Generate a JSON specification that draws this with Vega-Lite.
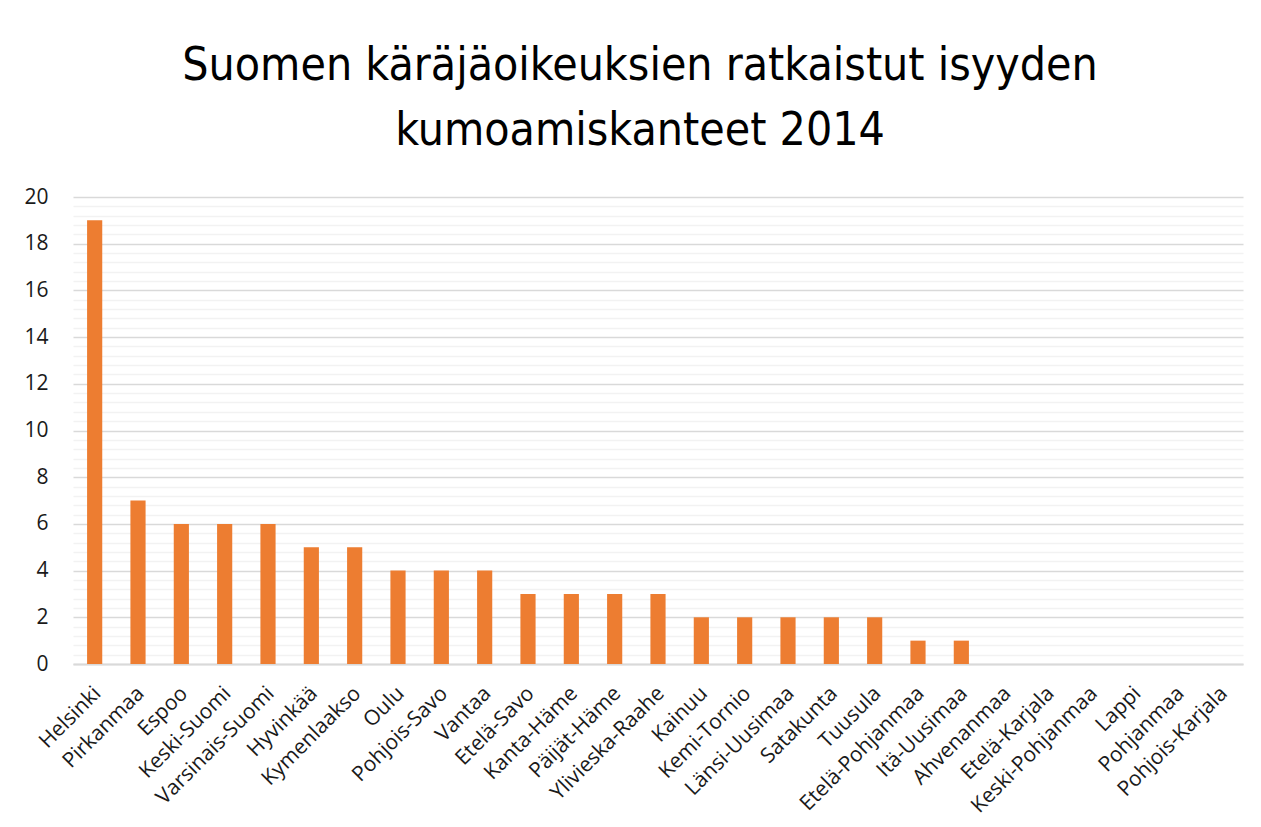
{
  "$schema": "https://vega.github.io/schema/vega-lite/v6.json",
  "autosize": {"type": "none"},
  "width": 1170,
  "height": 467,
  "padding": {"left": 73, "top": 197, "right": 18, "bottom": 163},
  "background": "white",
  "title": {
    "text": ["Suomen käräjäoikeuksien ratkaistut isyyden", "kumoamiskanteet 2014"],
    "font": "DejaVu Sans Condensed, Roboto Condensed, Roboto",
    "fontSize": 46,
    "fontWeight": "normal",
    "color": "#000000",
    "anchor": "middle",
    "dx": -18,
    "lineHeight": 65,
    "offset": 31
  },
  "data": {
    "values": [
      {"region": "Helsinki", "count": 19},
      {"region": "Pirkanmaa", "count": 7},
      {"region": "Espoo", "count": 6},
      {"region": "Keski-Suomi", "count": 6},
      {"region": "Varsinais-Suomi", "count": 6},
      {"region": "Hyvinkää", "count": 5},
      {"region": "Kymenlaakso", "count": 5},
      {"region": "Oulu", "count": 4},
      {"region": "Pohjois-Savo", "count": 4},
      {"region": "Vantaa", "count": 4},
      {"region": "Etelä-Savo", "count": 3},
      {"region": "Kanta-Häme", "count": 3},
      {"region": "Päijät-Häme", "count": 3},
      {"region": "Ylivieska-Raahe", "count": 3},
      {"region": "Kainuu", "count": 2},
      {"region": "Kemi-Tornio", "count": 2},
      {"region": "Länsi-Uusimaa", "count": 2},
      {"region": "Satakunta", "count": 2},
      {"region": "Tuusula", "count": 2},
      {"region": "Etelä-Pohjanmaa", "count": 1},
      {"region": "Itä-Uusimaa", "count": 1},
      {"region": "Ahvenanmaa", "count": 0},
      {"region": "Etelä-Karjala", "count": 0},
      {"region": "Keski-Pohjanmaa", "count": 0},
      {"region": "Lappi", "count": 0},
      {"region": "Pohjanmaa", "count": 0},
      {"region": "Pohjois-Karjala", "count": 0}
    ]
  },
  "mark": {"type": "bar", "color": "#ED7D31"},
  "encoding": {
    "x": {
      "field": "region",
      "type": "nominal",
      "sort": null,
      "scale": {"paddingInner": 0.65, "paddingOuter": 0.325},
      "axis": {
        "title": null,
        "labelAngle": -45,
        "labelAlign": "right",
        "labelBaseline": "middle",
        "labelFont": "Open Sans",
        "labelFontSize": 21,
        "labelColor": "#1a1a1a",
        "labelPadding": 26,
        "labelOffset": 3,
        "ticks": false,
        "domainColor": "#d9d9d9",
        "domainWidth": 2,
        "labelOverlap": false,
        "labelLimit": 300
      }
    },
    "y": {
      "field": "count",
      "type": "quantitative",
      "scale": {"domain": [0, 20], "nice": false},
      "axis": {
        "title": null,
        "values": [0, 0.4, 0.8, 1.2, 1.6, 2, 2.4, 2.8, 3.2, 3.6, 4, 4.4, 4.8, 5.2, 5.6, 6, 6.4, 6.8, 7.2, 7.6, 8, 8.4, 8.8, 9.2, 9.6, 10, 10.4, 10.8, 11.2, 11.6, 12, 12.4, 12.8, 13.2, 13.6, 14, 14.4, 14.8, 15.2, 15.6, 16, 16.4, 16.8, 17.2, 17.6, 18, 18.4, 18.8, 19.2, 19.6, 20],
        "labelExpr": "abs(datum.value - round(datum.value / 2) * 2) < 0.01 ? format(datum.value, 'd') : ''",
        "gridColor": {"condition": {"test": "abs(datum.value - round(datum.value / 2) * 2) < 0.01", "value": "#d9d9d9"}, "value": "#f2f2f2"},
        "gridWidth": 1.5,
        "ticks": false,
        "domain": false,
        "labelOverlap": false,
        "labelFont": "Open Sans",
        "labelFontSize": 21,
        "labelColor": "#1a1a1a",
        "labelPadding": 25
      }
    }
  },
  "config": {"view": {"stroke": null}}
}
